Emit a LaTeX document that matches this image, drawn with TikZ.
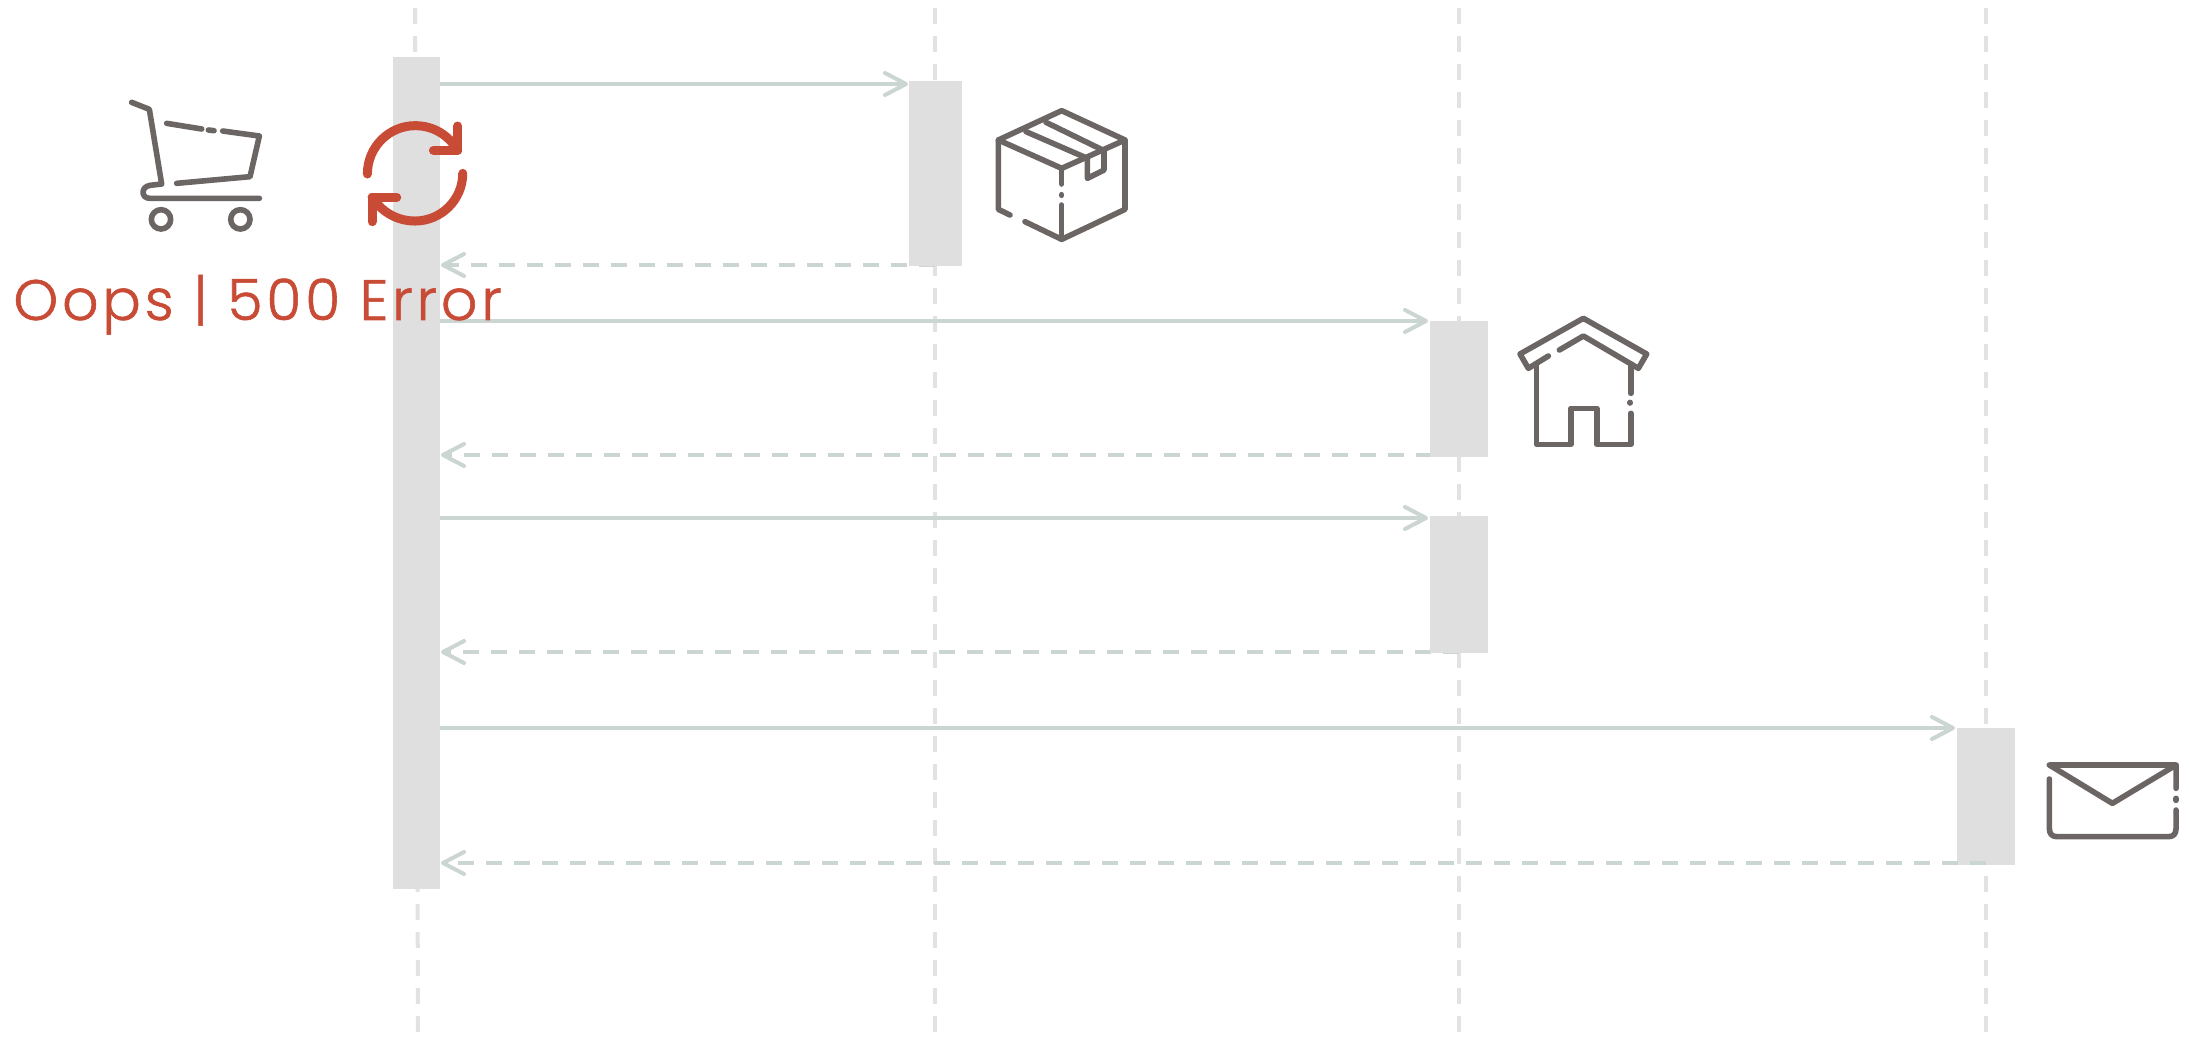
\documentclass[tikz,border=0pt]{standalone}
\usepackage{fontspec}
\setmainfont{Poppins}[UprightFont=* Light]
\usetikzlibrary{arrows.meta}
\definecolor{boxgray}{HTML}{DFDFDF}
\definecolor{lifegray}{HTML}{E2E2E2}
\definecolor{msggreen}{HTML}{CBD6D2}
\definecolor{icongray}{HTML}{6B6664}
\definecolor{alertred}{HTML}{C84B36}
\tikzset{
  x=0.5pt,y=-0.5pt,
  lifeline/.style={draw=lifegray,line width=2pt,dash pattern=on 8pt off 6pt},
  actbox/.style={fill=boxgray,draw=none},
  msg/.style={draw=msggreen,line width=2pt,-{Straight Barb[length=10.5pt,width=11pt,line cap=round,round]}},
  retmsg/.style={msg,dash pattern=on 8pt off 6pt},
  icon/.style={draw=icongray,line width=2.8pt,line cap=round,line join=round},
  refresh/.style={draw=alertred,line width=4.5pt,line cap=round,line join=round},
}
\newcommand{\actbox}[5]{\path[actbox] (#2,#3) rectangle (#4,#5);
  \coordinate (#1nw) at (#2,#3); \coordinate (#1se) at (#4,#5);}
\begin{document}
\begin{tikzpicture}
\useasboundingbox (0,0) rectangle (2189,1037);
% lifelines
\coordinate (l1a) at (415,8); \coordinate (l1b) at (418,1032);
\coordinate (l2a) at (935,8); \coordinate (l2b) at (935,1032);
\coordinate (l3a) at (1459,8); \coordinate (l3b) at (1459,1032);
\coordinate (l4a) at (1986,8); \coordinate (l4b) at (1986,1032);
\draw[lifeline] (l1a) -- (l1b);
\draw[lifeline] (l2a) -- (l2b);
\draw[lifeline] (l3a) -- (l3b);
\draw[lifeline] (l4a) -- (l4b);
% messages
\coordinate (m1s) at (440,84);  \coordinate (m1e) at (908,84);
\coordinate (r1s) at (935,265); \coordinate (r1e) at (441,265);
\coordinate (m2s) at (440,321); \coordinate (m2e) at (1428,321);
\coordinate (r2s) at (1460,455);\coordinate (r2e) at (441,455);
\coordinate (m3s) at (440,518); \coordinate (m3e) at (1428,518);
\coordinate (r3s) at (1459,652);\coordinate (r3e) at (441,652);
\coordinate (m4s) at (440,728); \coordinate (m4e) at (1955,728);
\coordinate (r4s) at (1986,863);\coordinate (r4e) at (441,863);
\draw[retmsg] (r1s) -- (r1e);
\draw[retmsg] (r2s) -- (r2e);
\draw[retmsg] (r3s) -- (r3e);
% activation boxes
\actbox{a}{393}{57}{440}{889}
\actbox{b}{909}{81}{962}{266}
\actbox{c}{1430}{321}{1488}{457}
\actbox{d}{1430}{516}{1488}{653}
\actbox{e}{1957}{728}{2015}{865}
\draw[msg] (m1s) -- (m1e);
\draw[msg] (m2s) -- (m2e);
\draw[msg] (m3s) -- (m3e);
\draw[msg] (m4s) -- (m4e);
\draw[retmsg] (r4s) -- (r4e);
% cart
\begin{scope}[shift={(100,80)},x=0.1667pt,y=-0.1667pt]
\draw[icon] (95,67) -- (148,88) -- (185,312) -- (150,316) .. controls (122,320) and (122,355) .. (150,355) -- (478,355);
\draw[icon] (200,130) -- (305,147);
\draw[icon] (325,150) -- (342,152);
\draw[icon] (368,153) -- (478,168) -- (450,290) -- (230,310);
\draw[icon] (183,418) circle (29);
\draw[icon] (421,418) circle (29);
\end{scope}
% box icon
\begin{scope}[shift={(980,90)},x=0.1667pt,y=-0.1667pt]
\draw[icon] (90,375) -- (55,358) -- (55,150) -- (245,62) -- (435,150) -- (435,358) -- (245,448) -- (135,395);
\draw[icon] (55,150) -- (245,235) -- (435,150);
\draw[icon] (245,235) -- (245,282);
\draw[icon] (245,314) -- (245,316);
\draw[icon] (245,345) -- (245,448);
\draw[icon] (138,125) -- (322,205) -- (322,265) -- (372,240) -- (372,182) -- (198,97);
\end{scope}
% house icon
\begin{scope}[shift={(1500,300)},x=0.1667pt,y=-0.1667pt]
\draw[icon] (145,168) -- (85,205) -- (60,162) -- (250,55) -- (440,162) -- (415,205) -- (250,108) -- (178,150);
\draw[icon] (110,190) -- (110,433) -- (212,433) -- (212,325) -- (290,325) -- (290,433) -- (392,433) -- (392,340);
\draw[icon] (390,307) -- (390,309);
\draw[icon] (392,280) -- (392,192);
\end{scope}
% envelope icon
\begin{scope}[shift={(1940,710)},x=0.1667pt,y=-0.1667pt]
\draw[icon] (328,207) -- (328,355) .. controls (328,372) and (336,380) .. (352,380) -- (684,380) .. controls (700,380) and (708,372) .. (708,355) -- (708,300);
\draw[icon] (708,235) -- (708,165) -- (328,165) -- (517,280) -- (708,165);
\draw[icon] (708,265) -- (708,271);
\end{scope}
% refresh icon
\begin{scope}[shift={(100,80)},x=0.1667pt,y=-0.1667pt]
\draw[refresh] (802,282) .. controls (802,200) and (868,137) .. (945,137) .. controls (1000,137) and (1045,165) .. (1073,211);
\draw[refresh] (1073,138) -- (1073,211) -- (1000,211);
\draw[refresh] (1088,280) .. controls (1088,360) and (1022,423) .. (945,423) .. controls (890,423) and (845,395) .. (816,352);
\draw[refresh] (890,352) -- (816,352) -- (816,425);
\end{scope}
% label
\node[text=alertred,font=\fontsize{28.5}{34}\selectfont\addfontfeature{LetterSpace=6.6,FakeBold=1},inner sep=0pt,anchor=base west] (oops) at (13,320) {Oops | 500 Error};
\end{tikzpicture}
\end{document}
